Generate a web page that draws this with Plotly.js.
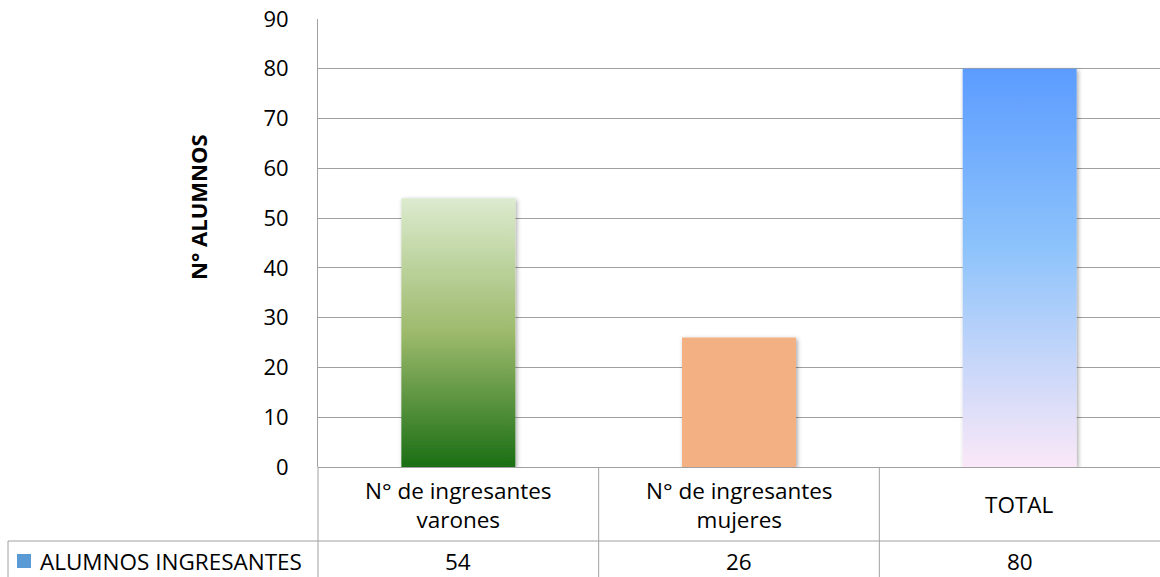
<!DOCTYPE html>
<html>
<head>
<meta charset="utf-8">
<script src="https://cdn.plot.ly/plotly-3.0.1.min.js"></script>
<style>html,body{margin:0;padding:0;background:#fff;}#chart{width:1160px;height:577px;}</style>
</head>
<body>
<div id="chart"></div>
<script>
const categories = ["N° de ingresantes varones", "N° de ingresantes mujeres", "TOTAL"];
const categoryLabels = ["N° de ingresantes<br>varones", "N° de ingresantes<br>mujeres", "TOTAL"];
const seriesName = "ALUMNOS INGRESANTES";
const values = [54, 26, 80];
const yTicks = [0, 10, 20, 30, 40, 50, 60, 70, 80, 90];

const W = 1160, H = 577, L = 318, R = 0, T = 19, B = 110;
const PW = W - L - R, PH = H - T - B;
const px = p => (p - L) / PW;
const py = p => (H - B - p) / PH;
const FONT = "Open Sans, Noto Sans, sans-serif";
const GRID = "#a0a0a0";
const TXT = 22.5;

const gradients = [
  [[0, "#dcebcf"], [0.5, "#9dba6c"], [1, "#1a6e14"]],
  [[0, "#f3b083"], [1, "#f3b083"]],
  [[0, "#5c9cff"], [0.45, "#8dc3fb"], [1, "#fbe8f8"]]
];

const trace = {
  type: "bar",
  x: categories,
  y: values,
  name: seriesName,
  width: 0.406,
  marker: { color: ["#6ea24a", "#f3b083", "#8dc3fb"], line: { width: 0 } },
  hoverinfo: "x+y",
  showlegend: false
};

const shapes = [];
const annotations = [];
shapes.push({ type: "line", xref: "paper", yref: "paper", x0: px(8), x1: 1, y0: py(541), y1: py(541), line: { color: GRID, width: 1 } });
shapes.push({ type: "line", xref: "paper", yref: "paper", x0: px(8), x1: px(8), y0: py(541), y1: py(600), line: { color: GRID, width: 1 } });
shapes.push({ type: "line", xref: "paper", yref: "paper", x0: 0, x1: 0, y0: 0, y1: py(600), line: { color: GRID, width: 1 } });
for (let i = 0; i < categories.length - 1; i++) {
  shapes.push({ type: "line", xref: "x", yref: "paper", x0: i + 0.5, x1: i + 0.5, y0: 0, y1: py(600), line: { color: GRID, width: 1 } });
}
categories.forEach((c, i) => {
  annotations.push({ xref: "x", yref: "paper", x: c, y: py(504.5), text: categoryLabels[i], showarrow: false, xanchor: "center", yanchor: "middle", font: { family: FONT, size: TXT, color: "#000" } });
  annotations.push({ xref: "x", yref: "paper", x: c, y: py(561), text: String(values[i]), showarrow: false, xanchor: "center", yanchor: "middle", font: { family: FONT, size: TXT, color: "#000" } });
});
shapes.push({ type: "rect", xref: "paper", yref: "paper", x0: px(17), x1: px(31), y0: py(568), y1: py(554), fillcolor: "#5b9bd5", line: { width: 0 } });
annotations.push({ xref: "paper", yref: "paper", x: px(38), y: py(561), text: seriesName, showarrow: false, xanchor: "left", yanchor: "middle", font: { family: FONT, size: TXT, color: "#000" } });
annotations.push({ xref: "paper", yref: "paper", x: px(198), y: py(207), text: "<b>N° ALUMNOS</b>", textangle: -90, showarrow: false, xanchor: "center", yanchor: "middle", font: { family: FONT, size: 22, color: "#000" } });

const layout = {
  width: W, height: H,
  margin: { l: L, r: R, t: T, b: B, pad: 0 },
  paper_bgcolor: "#fff", plot_bgcolor: "#fff",
  font: { family: FONT, size: 22, color: "#000" },
  xaxis: { type: "category", showticklabels: false, ticks: "", showgrid: false, zeroline: false, showline: false, range: [-0.5, 2.5], fixedrange: true },
  yaxis: { range: [0, 90], tickvals: yTicks, ticktext: yTicks.map(String), showgrid: true, gridcolor: GRID, gridwidth: 1, zeroline: true, zerolinecolor: GRID, zerolinewidth: 1, showline: true, linecolor: GRID, ticks: "", ticklabelstandoff: 24, tickfont: { family: FONT, size: 22, color: "#000" }, fixedrange: true },
  shapes: shapes,
  annotations: annotations,
  showlegend: false
};

function applyGradients() {
  const gd = document.getElementById("chart");
  const svg = gd.querySelector(".main-svg");
  let defs = svg.querySelector("defs");
  const NS = "http://www.w3.org/2000/svg";
  if (!defs) { defs = document.createElementNS(NS, "defs"); svg.insertBefore(defs, svg.firstChild); }
  gradients.forEach((stops, i) => {
    const id = "bargrad" + i;
    if (defs.querySelector("#" + id)) return;
    const g = document.createElementNS(NS, "linearGradient");
    g.setAttribute("id", id);
    g.setAttribute("x1", "0"); g.setAttribute("y1", "0"); g.setAttribute("x2", "0"); g.setAttribute("y2", "1");
    stops.forEach(s => {
      const st = document.createElementNS(NS, "stop");
      st.setAttribute("offset", s[0]);
      st.setAttribute("stop-color", s[1]);
      g.appendChild(st);
    });
    defs.appendChild(g);
  });
  if (!defs.querySelector("#barshadow")) {
    const f = document.createElementNS(NS, "filter");
    f.setAttribute("id", "barshadow");
    f.setAttribute("x", "-20%"); f.setAttribute("y", "-20%"); f.setAttribute("width", "140%"); f.setAttribute("height", "140%");
    const ds = document.createElementNS(NS, "feDropShadow");
    ds.setAttribute("dx", "1.5"); ds.setAttribute("dy", "1.5"); ds.setAttribute("stdDeviation", "2");
    ds.setAttribute("flood-color", "#000"); ds.setAttribute("flood-opacity", "0.35");
    f.appendChild(ds);
    defs.appendChild(f);
  }
  gd.querySelectorAll(".barlayer .trace .point path").forEach((p, i) => {
    p.style.fill = "url(#bargrad" + i + ")";
    p.style.fillOpacity = "1";
    p.setAttribute("filter", "url(#barshadow)");
  });
}

Plotly.newPlot("chart", [trace], layout, { displayModeBar: false, staticPlot: true }).then(applyGradients);
</script>
</body>
</html>
